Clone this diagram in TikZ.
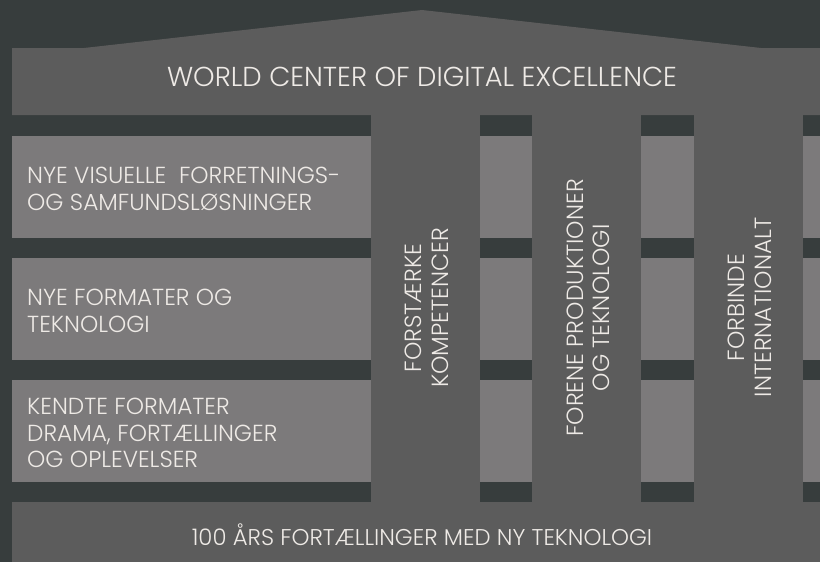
\documentclass[tikz,border=0pt]{standalone}
\usepackage{fontspec}
\IfFontExistsTF{Poppins Light}{\setmainfont{Poppins Light}}{\setmainfont{Poppins}}
\definecolor{bg}{HTML}{373D3D}
\definecolor{mid}{HTML}{5C5C5C}
\definecolor{lite}{HTML}{7C7A7B}
\definecolor{txt}{HTML}{EEEAE6}
\begin{document}
\begin{tikzpicture}[x=1pt,y=-1pt,
  lbl/.style={text=txt, inner sep=0pt, font=\fontsize{23.2}{26.7}\selectfont},
  vlbl/.style={text=txt, inner sep=0pt, rotate=90, align=center, font=\fontsize{23.4}{26.7}\selectfont},
  titlelbl/.style={text=txt, inner sep=0pt, font=\fontsize{27.4}{30}\selectfont},
  baselbl/.style={text=txt, inner sep=0pt, font=\fontsize{22.8}{26}\selectfont}]
\fill[bg] (0,0) rectangle (820,562);
\useasboundingbox (0,0) rectangle (820,562);
% roof + entablature
\fill[mid] (12,115) -- (12,48) -- (84,48) -- (422,10) -- (761,48) -- (820,48) -- (820,115) -- cycle;
% columns
\foreach \a/\b in {371/480, 532/641, 694/803}
  \fill[mid] (\a,114) rectangle (\b,503);
% base
\fill[mid] (12,502) rectangle (820,562);
% light boxes
\foreach \t/\u in {136/238, 258/360, 380/482}
  \foreach \a/\b in {12/371, 480/532, 641/694, 803/820}
    \fill[lite] (\a,\t) rectangle (\b,\u);
% texts
\node[titlelbl, anchor=base] (title) at (422,86) {WORLD CENTER OF DIGITAL EXCELLENCE};
\node[baselbl, anchor=base] (basetxt) at (422,545) {100 ÅRS FORTÆLLINGER MED NY TEKNOLOGI};
\node[lbl, anchor=west, align=left] (row1) at (27,189) {NYE VISUELLE\ \ FORRETNINGS-\\OG SAMFUNDSLØSNINGER};
\node[lbl, anchor=west, align=left] (row2) at (27,311) {NYE FORMATER OG\\TEKNOLOGI};
\node[lbl, anchor=west, align=left] (row3) at (27,433) {KENDTE FORMATER\\DRAMA, FORTÆLLINGER\\OG OPLEVELSER};
\node[vlbl] (col1) at (427,308) {FORSTÆRKE\\KOMPETENCER};
\node[vlbl] (col2) at (588.3,308) {FORENE PRODUKTIONER\\OG TEKNOLOGI};
\node[vlbl] (col3) at (749.7,307.5) {FORBINDE\\INTERNATIONALT};
\end{tikzpicture}
\end{document}
